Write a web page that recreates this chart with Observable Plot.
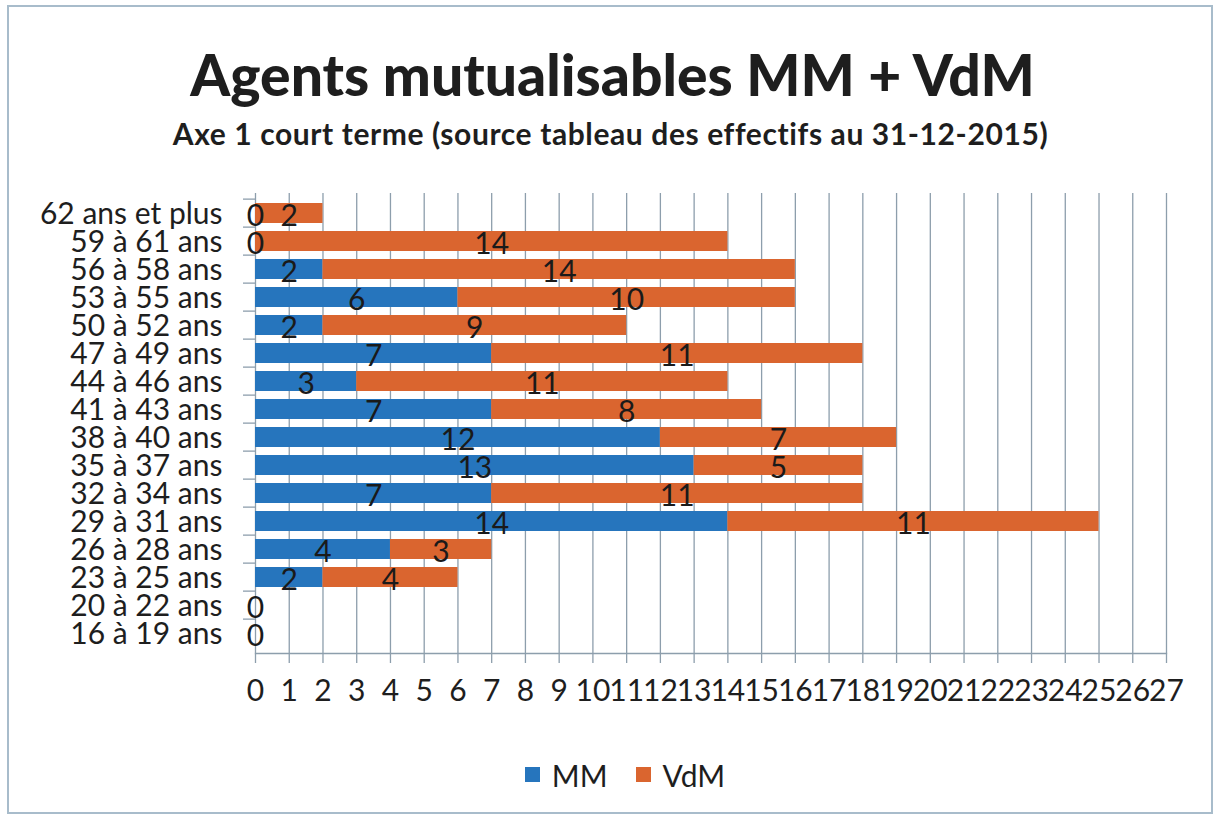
<!DOCTYPE html>
<html>
<head>
<meta charset="utf-8">
<script src="https://cdn.jsdelivr.net/npm/d3@7"></script>
<script src="https://cdn.jsdelivr.net/npm/@observablehq/plot@0.6"></script>
<style>
  html, body { margin: 0; padding: 0; background: #fff; }
  #wrap { position: relative; width: 1219px; height: 820px; overflow: hidden; font-family: Lato, "Open Sans", sans-serif; color: #1e1e1e; }
  #border { position: absolute; left: 7px; top: 5px; width: 1206px; height: 809px; border: 2px solid #a8bccb; box-sizing: border-box; }
  #title { position: absolute; left: 0; width: 1225px; top: 42px; text-align: center; font-weight: 900; font-size: 57px; line-height: 64px; white-space: nowrap; }
  #subtitle { position: absolute; left: 0; width: 1221px; top: 115px; text-align: center; font-weight: 700; font-size: 30px; line-height: 36px; white-space: nowrap; letter-spacing: 0.6px; }
  #chart { position: absolute; left: 0; top: 0; }
  #legend { position: absolute; left: 0; width: 1250px; top: 750px; text-align: center; font-size: 30px; line-height: 40px; }
  .item { display: inline-flex; align-items: center; margin: 0 14px; }
  .sw { display: inline-block; width: 15px; height: 15px; margin-right: 12px; }
</style>
</head>
<body>
<div id="wrap">
  <div id="border"></div>
  <div id="title">Agents mutualisables MM + VdM</div>
  <div id="subtitle">Axe 1 court terme (source tableau des effectifs au 31-12-2015)</div>
  <div id="chart"></div>
  <div id="legend"></div>
</div>
<script>
// ---- data ----
const ages = ["62 ans et plus", "59 à 61 ans", "56 à 58 ans", "53 à 55 ans", "50 à 52 ans", "47 à 49 ans",
  "44 à 46 ans", "41 à 43 ans", "38 à 40 ans", "35 à 37 ans", "32 à 34 ans", "29 à 31 ans",
  "26 à 28 ans", "23 à 25 ans", "20 à 22 ans", "16 à 19 ans"];
const mmValues = [0, 0, 2, 6, 2, 7, 3, 7, 12, 13, 7, 14, 4, 2, 0, 0];
const vdmValues = [2, 14, 14, 10, 9, 11, 11, 8, 7, 5, 11, 11, 3, 4, null, null];
const seriesNames = ["MM", "VdM"];
const seriesColors = ["#2675bd", "#da652f"];
const xTicks = [0, 1, 2, 3, 4, 5, 6, 7, 8, 9, 10, 11, 12, 13, 14, 15, 16, 17, 18, 19, 20, 21, 22, 23, 24, 25, 26, 27];

// build table
const rows = [];
ages.forEach((age, i) => {
  const m = mmValues[i];
  rows.push({age, series: "MM", value: m, x1: 0, x2: m});
  const v = vdmValues[i];
  if (v != null) rows.push({age, series: "VdM", value: v, x1: m, x2: m + v});
});

const gridColor = "#8d9eac";
const W = 1219, H = 720;
const mL = 255, mR = W - 1166, mT = 193, mB = H - 653;
const step = (H - mT - mB) / ages.length;

const plot = Plot.plot({
  width: W,
  height: H,
  marginLeft: mL,
  marginRight: mR,
  marginTop: mT,
  marginBottom: mB,
  style: {fontFamily: "Lato, 'Open Sans', sans-serif", color: "#1e1e1e", background: "transparent"},
  x: {domain: [0, 27], ticks: xTicks, label: null},
  y: {domain: ages, padding: 0.27, label: null},
  color: {domain: seriesNames, range: seriesColors},
  marks: [
    Plot.gridX(xTicks, {stroke: gridColor, strokeOpacity: 1, strokeWidth: 1.3}),
    Plot.barX(rows, {y: "age", x1: "x1", x2: "x2", fill: "series"}),
    Plot.frame({anchor: "bottom", stroke: gridColor, strokeWidth: 1.3}),
    Plot.axisX({ticks: xTicks, tickSize: 10, tickPadding: 16, fontSize: 30, stroke: gridColor, strokeWidth: 1.3, tickFormat: d => String(d), label: null}),
    Plot.axisY({tickSize: 0, tickPadding: 33, fontSize: 30, label: null, textAnchor: "end", dy: 1}),
    Plot.axisY({tickSize: 12, text: null, dy: -step / 2, stroke: gridColor, strokeWidth: 1.3, label: null}),
    Plot.text(rows, {y: "age", x: d => (d.x1 + d.x2) / 2, text: d => String(d.value), fontSize: 30, fill: "#1a1a1a", dy: 3})
  ]
});
document.getElementById("chart").appendChild(plot);

// legend
const leg = document.getElementById("legend");
seriesNames.forEach((s, i) => {
  const it = document.createElement("span");
  it.className = "item";
  it.innerHTML = `<span class="sw" style="background:${seriesColors[i]}"></span>${s}`;
  leg.appendChild(it);
});
</script>
</body>
</html>
